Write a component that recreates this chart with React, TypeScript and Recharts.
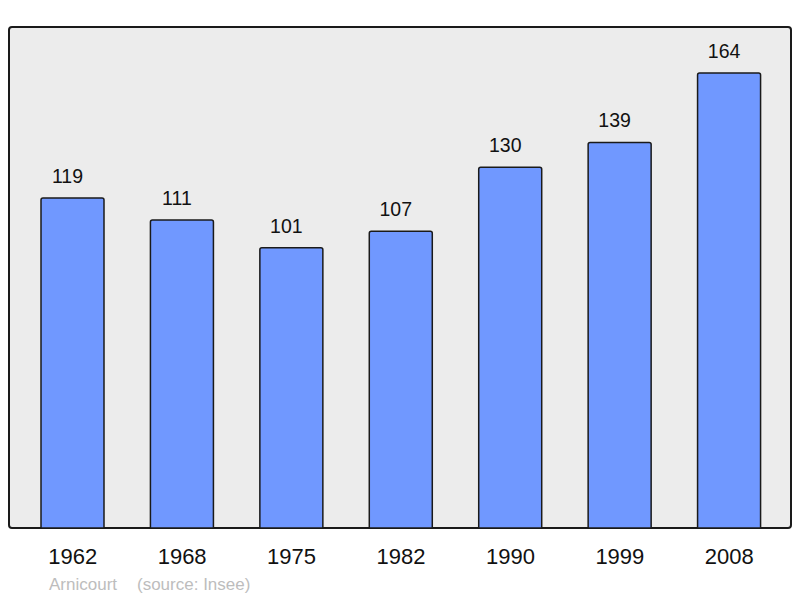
import React from 'react';
import { BarChart, Bar, XAxis, YAxis, LabelList, ReferenceArea } from 'recharts';

const years = ['1962', '1968', '1975', '1982', '1990', '1999', '2008'];
const population = [119, 111, 101, 107, 130, 139, 164];
const yMax = 180.6;

const data = years.map((year, i) => ({ year, population: population[i] }));

const padL = 9;
const padR = 7;

// rounded frame behind the bars (reference area spans the padded range, so widen it)
const Backdrop = (props: any) => {
  const { x, y, width, height } = props;
  return (
    <rect x={x - padL} y={y} width={width + padL + padR} height={height}
      rx={3} ry={3} fill="#ececec" />
  );
};

// frame border drawn over the bars
const Frame = (props: any) => {
  const { x, y, width, height } = props;
  return (
    <rect x={x - padL} y={y} width={width + padL + padR} height={height}
      rx={3} ry={3} fill="none" stroke="#1a1a1a" strokeWidth={2} />
  );
};

export default function App() {
  return (
    <div style={{ position: 'absolute', left: 0, top: 0, width: 800, height: 598, background: '#fff' }}>
      <BarChart
        width={800}
        height={598}
        data={data}
        margin={{ top: 27, right: 9, left: 9, bottom: 30 }}
        barSize={63}
      >
        <YAxis hide domain={[0, yMax]} width={0} />
        <ReferenceArea y1={0} y2={yMax} shape={<Backdrop />} ifOverflow="visible" />
        <XAxis
          dataKey="year"
          height={40}
          padding={{ left: padL, right: padR }}
          axisLine={false}
          tickLine={false}
          tickSize={0}
          tickMargin={20}
          tick={{ fill: '#111', fontSize: 22, fontFamily: 'Liberation Sans, Arial, sans-serif' }}
          interval={0}
        />
        <Bar
          dataKey="population"
          fill="#7098ff"
          stroke="#1a1a1a"
          strokeWidth={1.5}
          radius={[2, 2, 0, 0]}
          isAnimationActive={false}
        >
          <LabelList
            dataKey="population"
            position="top"
            offset={15}
            dx={-5}
            style={{ fill: '#111', fontSize: 19.5, fontFamily: 'Liberation Sans, Arial, sans-serif' }}
          />
        </Bar>
        <ReferenceArea y1={0} y2={yMax} shape={<Frame />} ifOverflow="visible" />
      </BarChart>
      <div
        style={{
          position: 'absolute',
          left: 49,
          top: 575,
          fontSize: 17,
          color: '#bdbdbd',
          fontFamily: 'Liberation Sans, Arial, sans-serif',
          whiteSpace: 'nowrap',
        }}
      >
        <span>Arnicourt</span>
        <span style={{ position: 'absolute', left: 88 }}>(source: Insee)</span>
      </div>
    </div>
  );
}
